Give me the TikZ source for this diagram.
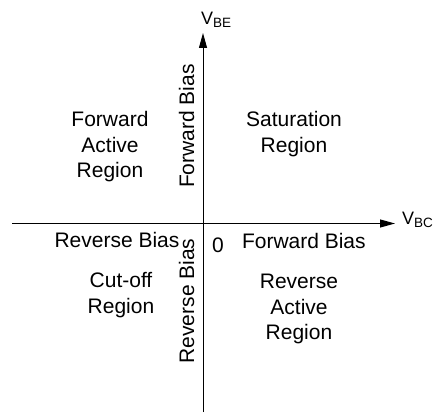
\documentclass[tikz,border=0pt]{standalone}
\usepackage{fontspec}
\setmainfont{Liberation Sans}
\usetikzlibrary{arrows.meta}
\tikzset{
  lbl/.style={inner sep=0pt, outer sep=0pt, font=\fontsize{21}{25.5}\selectfont, align=center},
  axislbl/.style={inner sep=0pt, outer sep=0pt, font=\fontsize{18}{20}\selectfont, anchor=base west},
  axis/.style={line width=1pt, -{Triangle[length=15pt,width=8pt]}}
}
\newcommand{\subtxt}[1]{\raisebox{-3pt}{\fontsize{13.5}{14}\selectfont #1}}
\begin{document}
\begin{tikzpicture}[x=1pt,y=-1pt]
\useasboundingbox (0,0) rectangle (433,412);
\coordinate (ybot) at (203,412);
\coordinate (ytop) at (203,33);
\coordinate (xleft) at (12,223.5);
\coordinate (xright) at (395,223.5);
\draw[axis] (ybot) -- (ytop);
\draw[axis] (xleft) -- (xright);
\node[axislbl] (vbe) at (201,25) {V\subtxt{BE}};
\node[axislbl] (vbc) at (402,224.5) {V\subtxt{BC}};
\node[lbl] (far) at (110,147) {Forward\\Active\\Region};
\node[lbl] (sat) at (294,134) {Saturation\\Region};
\node[lbl] (cut) at (121,295) {Cut-off\\Region};
\node[lbl] (rar) at (299,309) {Reverse\\Active\\Region};
\node[lbl, rotate=90] (fbv) at (186.5,126) {Forward Bias};
\node[lbl, rotate=90] (rbv) at (186.5,301) {Reverse Bias};
\node[lbl, anchor=base] (rbh) at (117,247) {Reverse Bias};
\node[lbl, anchor=base west] (fbh) at (242,248) {Forward Bias};
\node[lbl, anchor=base] (zero) at (218,252) {0};
\end{tikzpicture}
\end{document}
